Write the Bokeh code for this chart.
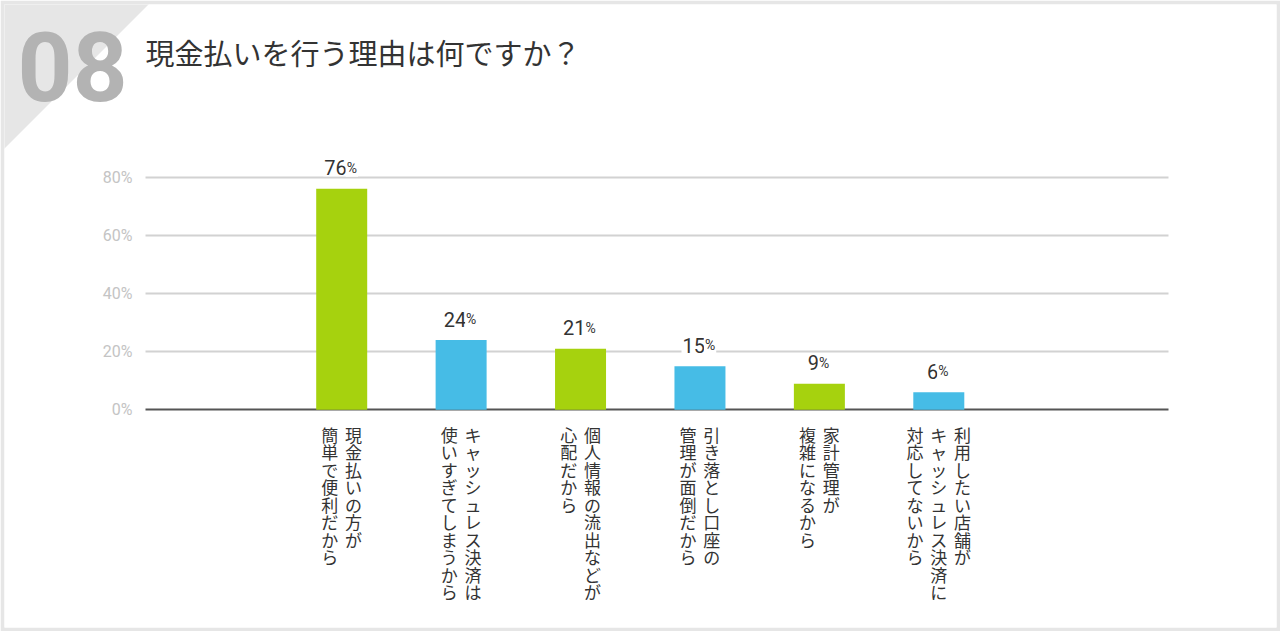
from bokeh.plotting import figure
from bokeh.models import Range1d, FixedTicker, Grid, ColumnDataSource, Label
from bokeh.core.properties import value
from bokeh.embed import file_html
from bokeh.resources import INLINE

# ---------------- data ----------------
title_text = "現金払いを行う理由は何ですか？"
badge_text = "08"
categories = [
    "現金払いの方が\n簡単で便利だから",
    "キャッシュレス決済は\n使いすぎてしまうから",
    "個人情報の流出などが\n心配だから",
    "引き落とし口座の\n管理が面倒だから",
    "家計管理が\n複雑になるから",
    "利用したい店舗が\nキャッシュレス決済に\n対応してないから",
]
percent = [76, 24, 21, 15, 9, 6]
y_ticks = [0, 20, 40, 60, 80]
y_tick_labels = ["0%", "20%", "40%", "60%", "80%"]

# ---------------- styles / layout ----------------
GREEN = "#a6d20e"
BLUE = "#46bce6"
bar_colors = [GREEN, BLUE, GREEN, BLUE, GREEN, BLUE]
TEXT_DARK = "#333333"
PANEL_GRAY = "#e6e6e6"
JP_FONT = "Noto Sans CJK JP"

W, H = 1280, 631
B = 4                               # grey frame around the white panel
GL, GR = 145, 1168.3                # grid extent (px)
Y0_PX = 409.3                       # pixel row of value 0
PX_PER_UNIT_Y = 2.9075              # pixels per percentage point
X0_PX = 341.2                       # pixel column of first category
PX_PER_CAT = 119.42                 # pixels between categories
BAR_W_PX = 51
COL_STEP = 23.7                     # spacing of vertical text columns


def xd(px):
    return (px - X0_PX) / PX_PER_CAT


def yd(py):
    return (Y0_PX - py) / PX_PER_UNIT_Y


p = figure(
    width=W, height=H,
    x_range=Range1d(xd(B), xd(W - B)),
    y_range=Range1d(yd(H - B), yd(B)),
    output_backend="svg", toolbar_location=None,
    min_border_left=B, min_border_right=B, min_border_top=B, min_border_bottom=B,
)
p.outline_line_color = None
p.background_fill_color = "white"
p.border_fill_color = PANEL_GRAY

# corner triangle
p.patch(x=[xd(0), xd(152), xd(0)], y=[yd(0), yd(0), yd(152)],
        fill_color=PANEL_GRAY, line_color=None)

# axes and grid
p.xaxis.visible = False
p.xgrid.visible = False
yax = p.yaxis[0]
yax.fixed_location = xd(GL)
yax.ticker = FixedTicker(ticks=y_ticks)
yax.major_label_overrides = dict(zip(y_ticks, y_tick_labels))
yax.axis_line_color = None
yax.major_tick_line_color = None
yax.minor_tick_line_color = None
yax.major_label_text_color = "#c4c4c4"
yax.major_label_text_font = "Roboto"
yax.major_label_text_font_size = "16px"
yax.major_label_standoff = 7

grid_ticks = [t for t in y_ticks if t != 0]
g = p.ygrid[0]
g.ticker = FixedTicker(ticks=grid_ticks)
g.grid_line_color = "#d2d2d2"
g.grid_line_width = 2
g.cross_bounds = (xd(GL), xd(GR))
base = Grid(dimension=1, ticker=FixedTicker(ticks=[0]), grid_line_color="#555555",
            grid_line_width=2, cross_bounds=(xd(GL), xd(GR)))
p.add_layout(base)

# bars
idx = list(range(len(categories)))
src = ColumnDataSource(dict(x=idx, top=percent, color=bar_colors))
p.vbar(x="x", top="top", bottom=0, width=BAR_W_PX / PX_PER_CAT,
       color="color", line_color=None, source=src)

# value labels: number + smaller %
nums = [str(v) for v in percent]
D_W, P_W = 11.0, 10.0
offs = [(len(s) * D_W - P_W) / 2 for s in nums]
lab = ColumnDataSource(dict(x=idx, y=percent, num=nums, pct=["%"] * len(nums),
                            off=offs, offp=[o - 2 for o in offs]))
p.text(x="x", y="y", text="num", x_offset="off", y_offset=-21, source=lab,
       text_font=value("Roboto"), text_font_size="20px", text_color=TEXT_DARK,
       text_align="right", text_baseline="alphabetic",
       background_fill_color="white", padding=1)
p.text(x="x", y="y", text="pct", x_offset="offp", y_offset=-21, source=lab,
       text_font=value("Roboto"), text_font_size="14px", text_color=TEXT_DARK,
       text_align="left", text_baseline="alphabetic",
       background_fill_color="white", padding=1)

# category labels, vertical writing (columns right to left)
cx, ctext, coff = [], [], []
for i, cat in enumerate(categories):
    lines = cat.split("\n")
    n = len(lines)
    for k, line in enumerate(lines):
        cx.append(i)
        ctext.append("\n".join(line))
        coff.append(((n - 1) / 2 - k) * COL_STEP)
csrc = ColumnDataSource(dict(x=cx, text=ctext, off=coff))
p.text(x="x", y=0, text="text", x_offset="off", y_offset=12, source=csrc,
       text_font=value(JP_FONT), text_font_size="17px", text_color=TEXT_DARK,
       text_align="center", text_baseline="top", text_line_height=0.7)

# title
title_src = ColumnDataSource(dict(x=[xd(145)], y=[yd(51)], t=[title_text], o=[0]))
p.text(x="x", y="y", text="t", x_offset="o", y_offset="o", source=title_src,
       text_font=value(JP_FONT), text_font_size="29px", text_color=TEXT_DARK,
       text_baseline="middle", text_align="left")

# badge
p.add_layout(Label(
    x=xd(17), y=yd(66), text=badge_text, text_font="Roboto",
    text_font_size="96px", text_font_style="bold", text_color="#b3b3b3",
    text_baseline="alphabetic", text_align="left"))

open("out.html", "w").write(file_html(p, INLINE))
